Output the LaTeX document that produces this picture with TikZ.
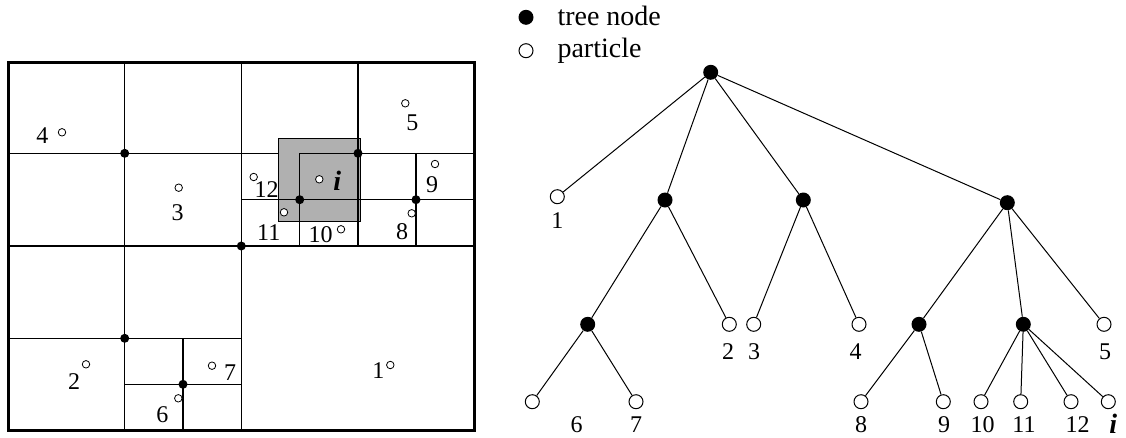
\documentclass[tikz,border=0pt]{standalone}
\usepackage{fontspec}
\setmainfont{Liberation Serif}
\begin{document}
\begin{tikzpicture}[x=1pt,y=-1pt,
  gridline/.style={line width=1.2pt},
  gdot/.style={circle,fill=black,inner sep=0pt,minimum size=9pt},
  gpart/.style={circle,draw=black,line width=0.8pt,fill=white,inner sep=0pt,minimum size=7.5pt},
  tdot/.style={circle,fill=black,inner sep=0pt,minimum size=15pt},
  tpart/.style={circle,draw=black,line width=1pt,fill=white,inner sep=0pt,minimum size=14pt},
  lab/.style={inner sep=0pt,font=\fontsize{24}{28}\selectfont},
  ilab/.style={inner sep=0pt,font=\fontsize{28}{32}\selectfont\bfseries\itshape},
  legtext/.style={inner sep=0pt,anchor=base west,font=\fontsize{28}{32}\selectfont},
  tedge/.style={line width=1pt}]
\useasboundingbox (0,0) rectangle (1126,437);
% ---------- quadtree domain ----------
\fill[gray!62] (278,138.3) rectangle (360.3,221);
\draw[gridline] (124.7,62) -- (124.7,430);
\draw[gridline] (241.3,62) -- (241.3,430);
\draw[gridline] (358,62) -- (358,246);
\draw[gridline] (8,153.3) -- (278,153.3);
\draw[gridline] (299.7,153.3) -- (474,153.3);
\draw[gridline] (8,246) -- (474,246);
\draw[gridline] (8,338.3) -- (241.3,338.3);
\draw[gridline] (241.3,199.7) -- (474,199.7);
\draw[gridline] (299.7,153.3) -- (299.7,246);
\draw[gridline] (416,153.3) -- (416,246);
\draw[gridline] (124.7,384.3) -- (241.3,384.3);
\draw[gridline] (183,338.3) -- (183,430);
\draw[line width=1pt] (278,138.3) rectangle (360.3,221);
\draw[line width=3pt] (8,62) rectangle (474,430);
% tree-node dots in the domain
\node[gdot] (g1) at (124.7,153.3) {};
\node[gdot] (g2) at (358,153.3) {};
\node[gdot] (g3) at (241.3,246) {};
\node[gdot] (g4) at (299.7,199.7) {};
\node[gdot] (g5) at (416,199.7) {};
\node[gdot] (g6) at (124.7,338.3) {};
\node[gdot] (g7) at (183,384.3) {};
% particles in the domain
\node[gpart] (q4) at (62,132.3) {};
\node[lab] (lq4) at (42.3,136) {4};
\node[gpart] (q5) at (405.3,103.3) {};
\node[lab] (lq5) at (412.3,122.7) {5};
\node[gpart] (q3) at (178.7,187.7) {};
\node[lab] (lq3) at (177.7,212.3) {3};
\node[gpart] (q12) at (253.7,177) {};
\node[lab] (lq12) at (266.7,190) {12};
\node[gpart] (qi) at (319.3,179.3) {};
\node[ilab] (lqi) at (337.3,181) {i};
\node[gpart] (q9) at (435,164) {};
\node[lab] (lq9) at (432,184.7) {9};
\node[gpart] (q11) at (284,212.3) {};
\node[lab] (lq11) at (268.7,232.7) {11};
\node[gpart] (q10) at (341,229.3) {};
\node[lab] (lq10) at (320.7,234.3) {10};
\node[gpart] (q8) at (411.7,213.3) {};
\node[lab] (lq8) at (402,231.7) {8};
\node[gpart] (q2) at (86,364.3) {};
\node[lab] (lq2) at (74,381.7) {2};
\node[gpart] (q7) at (212,365.7) {};
\node[lab] (lq7) at (230,372.7) {7};
\node[gpart] (q6) at (178.3,398.3) {};
\node[lab] (lq6) at (162.3,414.3) {6};
\node[gpart] (q1) at (390.3,365) {};
\node[lab] (lq1) at (378.3,370.7) {1};
% ---------- legend ----------
\node[tdot] (legdot) at (526,17.3) {};
\node[legtext] (legt1) at (557.3,25) {tree node};
\node[tpart] (legcirc) at (526,50.7) {};
\node[legtext] (legt2) at (557.3,57.3) {particle};
% ---------- tree ----------
\node[tdot] (root) at (710.7,72.3) {};
\node[tdot] (A) at (665,200) {};
\node[tdot] (B) at (803.3,200) {};
\node[tdot] (C) at (1007.3,202.7) {};
\node[tdot] (D) at (587.7,324.3) {};
\node[tdot] (E) at (919,324.3) {};
\node[tdot] (F) at (1023.3,324.3) {};
\node[tpart] (p1) at (557.3,196.7) {};
\node[tpart] (p2) at (729.3,324.3) {};
\node[tpart] (p3) at (753.7,324.3) {};
\node[tpart] (p4) at (859,324.3) {};
\node[tpart] (p5) at (1104,324.3) {};
\node[tpart] (p6) at (532.3,401.7) {};
\node[tpart] (p7) at (636,401.7) {};
\node[tpart] (p8) at (861,401.7) {};
\node[tpart] (p9) at (943.3,401.7) {};
\node[tpart] (p10) at (981,401.7) {};
\node[tpart] (p11) at (1020.7,401.7) {};
\node[tpart] (p12) at (1071,401.7) {};
\node[tpart] (pi) at (1108.3,401.7) {};
\draw[tedge] (root) -- (p1);
\draw[tedge] (root) -- (A);
\draw[tedge] (root) -- (B);
\draw[tedge] (root) -- (C);
\draw[tedge] (A) -- (D);
\draw[tedge] (A) -- (p2);
\draw[tedge] (B) -- (p3);
\draw[tedge] (B) -- (p4);
\draw[tedge] (C) -- (E);
\draw[tedge] (C) -- (F);
\draw[tedge] (C) -- (p5);
\draw[tedge] (D) -- (p6);
\draw[tedge] (D) -- (p7);
\draw[tedge] (E) -- (p8);
\draw[tedge] (E) -- (p9);
\draw[tedge] (F) -- (p10);
\draw[tedge] (F) -- (p11);
\draw[tedge] (F) -- (p12);
\draw[tedge] (F) -- (pi);
% tree labels
\node[lab] (l1) at (557.3,221) {1};
\node[lab] (l2) at (728,351.7) {2};
\node[lab] (l3) at (754,351.7) {3};
\node[lab] (l4) at (855.7,351.7) {4};
\node[lab] (l5) at (1105,351.7) {5};
\node[lab] (l6) at (576.7,425) {6};
\node[lab] (l7) at (636,425) {7};
\node[lab] (l8) at (861,425) {8};
\node[lab] (l9) at (944,425) {9};
\node[lab] (l10) at (982.7,425) {10};
\node[lab] (l11) at (1024,425) {11};
\node[lab] (l12) at (1077.7,425) {12};
\node[ilab] (li) at (1113.3,423.5) {i};
\end{tikzpicture}
\end{document}
